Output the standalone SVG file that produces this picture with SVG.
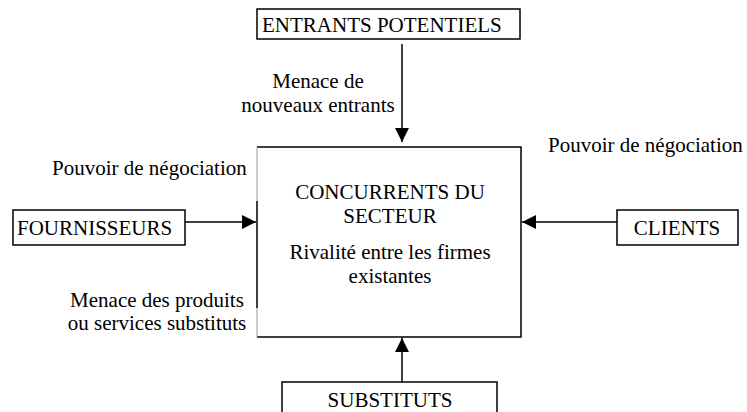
<svg xmlns="http://www.w3.org/2000/svg" width="747" height="412" viewBox="0 0 747 412">
<style>
.box{fill:#fff;stroke:#000;stroke-width:1.5}
.t{font-family:"Liberation Serif","Times New Roman",serif;font-size:21px;fill:#000}
.c{text-anchor:middle}
.ln{stroke:#000;stroke-width:1.5;fill:none}
</style>
<defs>
<marker id="ah2" viewBox="0 0 14 14" refX="14" refY="7" markerWidth="15" markerHeight="14" markerUnits="userSpaceOnUse" orient="auto">
<path d="M0,0 L14,7 L0,14 z" fill="#000"/>
</marker>
</defs>
<g id="concurrents">
<path d="M257,147 H521 V337 H257" class="ln"/>
<line x1="257" y1="147" x2="257" y2="201" stroke="#999" stroke-width="1"/>
<line x1="257" y1="201" x2="257" y2="308" stroke="#000" stroke-width="1.5"/>
<line x1="257" y1="308" x2="257" y2="337" stroke="#999" stroke-width="1"/>
<text class="t c" x="390" y="199">CONCURRENTS DU</text>
<text class="t c" x="390" y="223">SECTEUR</text>
<text class="t c" x="390" y="259">Rivalité entre les firmes</text>
<text class="t c" x="390" y="283">existantes</text>
</g>
<g id="entrants">
<rect class="box" x="257" y="9" width="263" height="30"/>
<text class="t" x="262" y="32">ENTRANTS POTENTIELS</text>
</g>
<g id="fournisseurs">
<rect class="box" x="13" y="210" width="172" height="35"/>
<text class="t" x="17" y="235">FOURNISSEURS</text>
</g>
<g id="clients">
<rect class="box" x="617" y="210" width="121" height="35"/>
<text class="t c" x="677" y="235">CLIENTS</text>
</g>
<g id="substituts">
<rect class="box" x="282" y="382" width="215" height="40"/>
<text class="t c" x="390" y="407">SUBSTITUTS</text>
</g>
<g id="connectors">
<line class="ln" x1="402" y1="44" x2="402" y2="142" marker-end="url(#ah2)"/>
<line class="ln" x1="185" y1="222" x2="256" y2="222" marker-end="url(#ah2)"/>
<line class="ln" x1="617" y1="222" x2="522" y2="222" marker-end="url(#ah2)"/>
<line class="ln" x1="402" y1="382" x2="402" y2="338" marker-end="url(#ah2)"/>
</g>
<g id="labels">
<text class="t c" x="318" y="88">Menace de</text>
<text class="t c" x="318" y="112">nouveaux entrants</text>
<text class="t" x="52" y="175">Pouvoir de négociation</text>
<text class="t" x="548" y="152">Pouvoir de négociation</text>
<text class="t c" x="157" y="307">Menace des produits</text>
<text class="t c" x="157" y="330">ou services substituts</text>
</g>
</svg>
